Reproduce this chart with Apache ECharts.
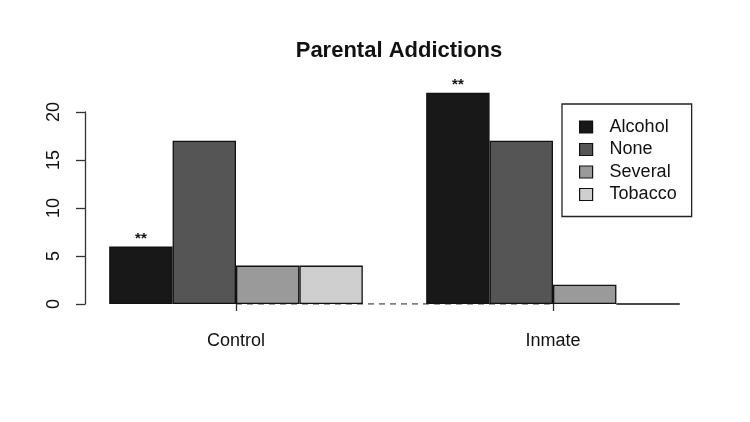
<!DOCTYPE html>
<html><head><meta charset="utf-8">
<script src="https://cdn.jsdelivr.net/npm/echarts@6/dist/echarts.min.js"></script>
<style>html,body{margin:0;padding:0;background:#fff}#c{width:750px;height:422px}</style>
</head><body><div id="c"></div>
<script>
const title = 'Parental Addictions';
const groups = ['Control', 'Inmate'];
const seriesNames = ['Alcohol', 'None', 'Several', 'Tobacco'];
const alcohol = [6, 22];
const none = [17, 17];
const several = [4, 2];
const tobacco = [4, 0];
const baseline = [0, 0];
const significance = ['**', '**']; // marks above Alcohol bars
const yTicks = [0, 5, 10, 15, 20];
const colors = ['#181818', '#555555', '#9a9a9a', '#cfcfcf'];

const values = [alcohol, none, several, tobacco];
const FONT = 'Liberation Sans, Arial, Helvetica, sans-serif';

const chart = echarts.init(document.getElementById('c'), null, {renderer: 'canvas'});
const series = seriesNames.map((name, i) => ({
  name: name,
  type: 'bar',
  clip: false,
  barGap: '0%',
  barCategoryGap: '20%',
  z: 3,
  data: values[i].map(v => v),
  itemStyle: {color: colors[i], borderColor: '#111', borderWidth: 1.3},
  label: i === 0 ? {
    show: true, position: 'top', distance: 0,
    formatter: p => significance[p.dataIndex],
    fontFamily: FONT, fontWeight: 'bold', fontSize: 15, color: '#111'
  } : {show: false},
  emphasis: {disabled: true},
  silent: true
}));
series.push({
  name: 'baseline', type: 'line', data: baseline, symbol: 'none', silent: true, z: 2,
  lineStyle: {type: [6, 5], color: '#555', width: 1.6}
});

chart.setOption({
  animation: false,
  backgroundColor: '#fff',
  title: {
    text: title, left: 394, top: 35, textAlign: 'center',
    textStyle: {fontFamily: FONT, fontWeight: 'bold', fontSize: 22, color: '#111'}
  },
  legend: {
    orient: 'vertical', left: 562, top: 104,
    padding: [14, 15, 13, 17],
    itemWidth: 13, itemHeight: 12, itemGap: 4.5,
    borderColor: '#222', borderWidth: 1.3, backgroundColor: '#fff',
    icon: 'rect',
    itemStyle: {borderColor: '#111', borderWidth: 1.2},
    textStyle: {fontFamily: FONT, fontSize: 18, lineHeight: 18, color: '#111', padding: [0, 0, 0, 12]},
    data: seriesNames
  },
  grid: {left: 77.5, right: 38.5, top: 112, bottom: 118},
  xAxis: {
    type: 'category', data: groups,
    axisLine: {show: false},
    axisTick: {show: true, alignWithLabel: true, length: 7, lineStyle: {color: '#333', width: 1.3}},
    axisLabel: {fontFamily: FONT, fontSize: 18, color: '#111', margin: 28}
  },
  yAxis: {
    type: 'value', min: 0, max: 20, interval: 5, offset: -7.5,
    splitLine: {show: false},
    axisLine: {show: true, lineStyle: {color: '#333', width: 1.3}},
    axisTick: {show: true, length: 9, lineStyle: {color: '#333', width: 1.3}},
    axisLabel: {
      rotate: 90, fontFamily: FONT, fontSize: 18, color: '#111', margin: 22,
      formatter: v => (yTicks.indexOf(v) >= 0 ? String(v) : '')
    }
  },
  series: series
});
</script></body></html>
